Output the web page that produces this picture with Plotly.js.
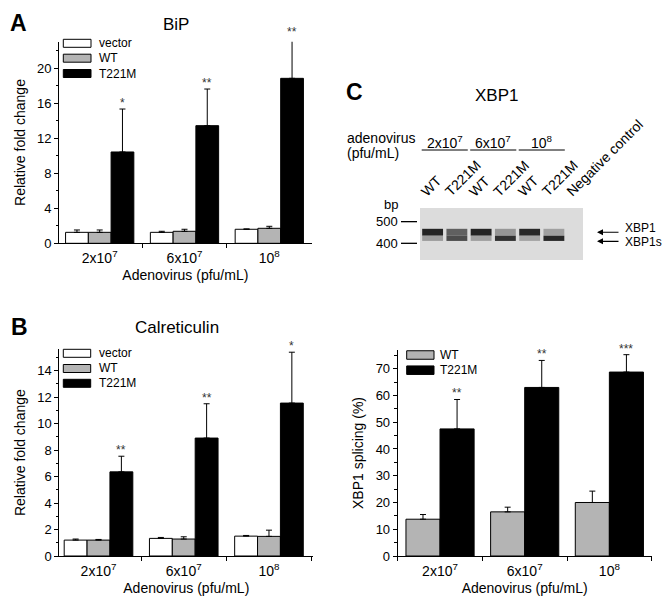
<!DOCTYPE html>
<html><head><meta charset="utf-8">
<script src="https://cdn.plot.ly/plotly-3.0.1.min.js"></script>
<style>html,body{margin:0;padding:0;background:#fff}#chart{width:669px;height:606px}</style>
</head><body><div id="chart"></div>
<script>
// ---------- data ----------
const conc = ['2x10<sup>7</sup>', '6x10<sup>7</sup>', '10<sup>8</sup>'];
const seriesNames = ['vector', 'WT', 'T221M'];
const seriesColors = ['#ffffff', '#b4b4b4', '#000000'];

// Panel A: BiP relative fold change
const bipVector = [1.25, 1.25, 1.6];
const bipVectorErr = [0.27, 0.12, 0.04];
const bipWT = [1.25, 1.37, 1.71];
const bipWTErr = [0.27, 0.23, 0.23];
const bipT221M = [10.42, 13.42, 18.82];
const bipT221MErr = [4.9, 4.18, 4.56];
const bipSig = ['*', '**', '**'];

// Panel B: Calreticulin relative fold change
const calVector = [1.2, 1.33, 1.5];
const calVectorErr = [0.08, 0.07, 0.05];
const calWT = [1.2, 1.28, 1.48];
const calWTErr = [0.05, 0.17, 0.47];
const calT221M = [6.35, 8.9, 11.54];
const calT221MErr = [1.18, 2.59, 3.84];
const calSig = ['**', '**', '*'];

// Panel C (bottom): XBP1 splicing (%)
const xbpNames = ['WT', 'T221M'];
const xbpColors = ['#b4b4b4', '#000000'];
const xbpWT = [13.75, 16.5, 20.0];
const xbpWTErr = [1.75, 1.75, 4.25];
const xbpT221M = [47.5, 63.0, 68.75];
const xbpT221MErr = [11.0, 10.1, 6.5];
const xbpSig = ['**', '**', '***'];

// Panel C (gel)
const laneLabels = ['WT', 'T221M', 'WT', 'T221M', 'WT', 'T221M', 'Negative control'];
const laneIndex = [0, 1, 2, 3, 4, 5, 6];
const xbp1Intensity = [0.92, 0.62, 0.92, 0.35, 0.9, 0.3, 0];
const xbp1sIntensity = [0.32, 0.72, 0.3, 0.85, 0.28, 0.9, 0];
const xbp1Bp = 451;
const xbp1sBp = 423;
const xbp1Thick = 32;
const xbp1sThick = 24;
const ladderBp = [500, 400];

// ---------- helpers ----------
const W = 669, H = 606;
const X = p => p / W, Y = p => 1 - p / H;
const FONT = '"Liberation Sans", Arial, Helvetica, sans-serif';
const BARGAP = 0.195;

const traces = [];
const annotations = [];
const shapes = [];

// panel geometry (pixels) and value ranges
const PA = {bot: 243.3, top: 41.7, ymax: 23};
const PB = {bot: 556, top: 349.3, ymax: 15.6};
const PC = {bot: 556, top: 350, ymax: 77};

function addBars(vals, errs, names, colors, xa, ya) {
  vals.forEach((v, k) => {
    traces.push({
      type: 'bar', x: conc, y: v, name: names[k], xaxis: xa, yaxis: ya,
      showlegend: false, cliponaxis: false,
      marker: {color: colors[k], line: {color: '#000', width: 1}},
      error_y: {type: 'data', symmetric: false, array: errs[k], arrayminus: errs[k].map(() => 0),
                color: '#000', thickness: 1, width: 3}
    });
  });
}
function addSig(sig, vals, errs, n, xa, P) {
  const bw = (1 - BARGAP) / n;
  const off = bw * ((n - 1) - (n - 1) / 2);
  sig.forEach((s, i) => {
    const v = vals[i] + errs[i];
    const pyPix = P.bot - (P.bot - P.top) * v / P.ymax;
    annotations.push({xref: xa, yref: 'paper', x: i + off, y: Y(pyPix), text: s,
      showarrow: false, yanchor: 'bottom', yshift: -3, font: {size: 12, color: '#333'}});
  });
}
function addLegend(names, colors, bx0, bx1, yc, tx, bh) {
  names.forEach((n, k) => {
    shapes.push({type: 'rect', xref: 'paper', yref: 'paper', x0: X(bx0), x1: X(bx1),
      y0: Y(yc[k] + bh / 2), y1: Y(yc[k] - bh / 2), fillcolor: colors[k], line: {color: '#000', width: 1}});
    annotations.push({xref: 'paper', yref: 'paper', x: X(tx), y: Y(yc[k]), text: n, showarrow: false,
      xanchor: 'left', yanchor: 'middle', font: {size: 12}});
  });
}
function txt(x, y, t, size, extra) {
  annotations.push(Object.assign({xref: 'paper', yref: 'paper', x: X(x), y: Y(y), text: t,
    showarrow: false, xanchor: 'center', yanchor: 'middle', font: {size: size}}, extra || {}));
}

// ---------- bar panels ----------
addBars([bipVector, bipWT, bipT221M], [bipVectorErr, bipWTErr, bipT221MErr], seriesNames, seriesColors, 'x', 'y');
addSig(bipSig, bipT221M, bipT221MErr, 3, 'x', PA);
addBars([calVector, calWT, calT221M], [calVectorErr, calWTErr, calT221MErr], seriesNames, seriesColors, 'x2', 'y2');
addSig(calSig, calT221M, calT221MErr, 3, 'x2', PB);
addBars([xbpWT, xbpT221M], [xbpWTErr, xbpT221MErr], xbpNames, xbpColors, 'x3', 'y3');
addSig(xbpSig, xbpT221M, xbpT221MErr, 2, 'x3', PC);

addLegend(seriesNames, seriesColors, 63.3, 91, [43.3, 58.2, 73.5], 96.5, 8);
addLegend(seriesNames, seriesColors, 63.3, 90.7, [353.3, 368.5, 383.3], 96.5, 8);
addLegend(xbpNames, xbpColors, 406.7, 434, [355, 370.2], 438.3, 8.5);

// ---------- gel ----------
const gelScale = [[0, '#dcdcdc'], [1, '#141414']];
[[xbp1Bp, xbp1Thick, xbp1Intensity, 'XBP1'], [xbp1sBp, xbp1sThick, xbp1sIntensity, 'XBP1s']].forEach(b => {
  traces.push({type: 'bar', x: laneIndex, y: laneIndex.map(() => b[1]), base: laneIndex.map(() => b[0] - b[1] / 2),
    width: 0.86, offset: -0.43, xaxis: 'x4', yaxis: 'y4', showlegend: false, name: b[3], hoverinfo: 'skip',
    marker: {color: b[2], colorscale: gelScale, cmin: 0, cmax: 1, showscale: false, line: {width: 0}}});
});
shapes.push({type: 'rect', xref: 'x4 domain', yref: 'y4 domain', x0: 0, x1: 1, y0: 0, y1: 1,
  fillcolor: '#dcdcdc', line: {width: 0}, layer: 'below'});
ladderBp.forEach(bp => {
  shapes.push({type: 'line', xref: 'paper', yref: 'y4', x0: X(401), x1: X(417), y0: bp, y1: bp, line: {color: '#000', width: 1.3}});
  annotations.push({xref: 'paper', yref: 'y4', x: X(399.5), y: bp, text: String(bp), showarrow: false,
    xanchor: 'right', yanchor: 'middle', font: {size: 13}});
});
txt(391, 205, 'bp', 13);
// band arrows + names
[[xbp1Bp, 'XBP1', 0, 4], [xbp1sBp, 'XBP1s', -3, -4]].forEach(a => {
  annotations.push({xref: 'paper', yref: 'y4', x: X(597), y: a[0], yshift: a[2], text: '', showarrow: true,
    ax: 23, ay: 0, arrowhead: 2, arrowsize: 1, arrowwidth: 1.2, arrowcolor: '#000'});
  annotations.push({xref: 'paper', yref: 'y4', x: X(623), y: a[0], yshift: a[3], text: a[1], showarrow: false,
    xanchor: 'left', yanchor: 'middle', font: {size: 12}});
});
// lane labels
laneLabels.forEach((l, i) => {
  annotations.push({xref: 'x4', yref: 'paper', x: laneIndex[i], y: Y(202), text: l, showarrow: false,
    textangle: -45, xanchor: 'left', yanchor: 'bottom', xshift: -18, font: {size: 14}});
});
// concentration groups
conc.forEach((c, g) => {
  annotations.push({xref: 'x4', yref: 'paper', x: 2 * g + 0.5, y: Y(142), text: c, showarrow: false,
    xanchor: 'center', yanchor: 'middle', font: {size: 14}});
  shapes.push({type: 'line', xref: 'x4', yref: 'paper', x0: 2 * g - 0.45, x1: 2 * g + 1.45, y0: Y(150), y1: Y(150),
    line: {color: '#000', width: 1}});
});
txt(345, 138, 'adenovirus', 14, {xanchor: 'left'});
txt(345, 153.5, '(pfu/mL)', 14, {xanchor: 'left'});

// ---------- titles / letters ----------
txt(18, 22.5, '<b>A</b>', 23);
txt(19, 327, '<b>B</b>', 23);
txt(354, 92, '<b>C</b>', 23);
txt(175.5, 24, 'BiP', 17);
txt(176.7, 327.5, 'Calreticulin', 17);
txt(496.7, 95, 'XBP1', 17);

// ---------- axes ----------
function xAx(d0, d1, anchor, range) {
  return {domain: [X(d0), X(d1)], anchor: anchor, type: 'category', range: range,
    showline: true, linecolor: '#000', linewidth: 1, ticks: 'outside', ticklen: 4, tickcolor: '#000',
    tickson: 'boundaries', showgrid: false, zeroline: false, tickfont: {size: 14}, ticklabelstandoff: 2,
    title: {text: 'Adenovirus (pfu/mL)', font: {size: 14}, standoff: 5}};
}
function yAx(P, anchor, dtick, minor, title) {
  return {domain: [Y(P.bot), Y(P.top)], anchor: anchor, range: [0, P.ymax], dtick: dtick, tick0: 0,
    showline: true, linecolor: '#000', linewidth: 1, ticks: 'outside', ticklen: 4, tickcolor: '#000',
    minor: {dtick: minor, ticks: 'outside', ticklen: 2.5, tickcolor: '#000', showgrid: false},
    showgrid: false, zeroline: false, tickfont: {size: 13},
    title: {text: title, font: {size: 14}, standoff: 8}};
}

const layout = {
  width: W, height: H, margin: {l: 0, r: 0, t: 0, b: 0},
  paper_bgcolor: '#fff', plot_bgcolor: 'rgba(0,0,0,0)',
  font: {family: FONT, color: '#000'},
  barmode: 'group', bargap: BARGAP, bargroupgap: 0, showlegend: false,
  xaxis: xAx(59, 311.7, 'y', [-0.48, 2.5]),
  yaxis: yAx(PA, 'x', 4, 2, 'Relative fold change'),
  xaxis2: xAx(59.3, 313.3, 'y2', [-0.46, 2.52]),
  yaxis2: yAx(PB, 'x2', 2, 1, 'Relative fold change'),
  xaxis3: xAx(397.7, 651.7, 'y3', [-0.5, 2.5]),
  yaxis3: yAx(PC, 'x3', 10, 5, 'XBP1 splicing (%)'),
  xaxis4: {domain: [X(420), X(583)], anchor: 'y4', range: [-0.52, 6.2], visible: false},
  yaxis4: {domain: [Y(260), Y(208)], anchor: 'x4', range: [323, 563], visible: false},
  annotations: annotations, shapes: shapes
};

Plotly.newPlot('chart', traces, layout, {staticPlot: true});
</script></body></html>
